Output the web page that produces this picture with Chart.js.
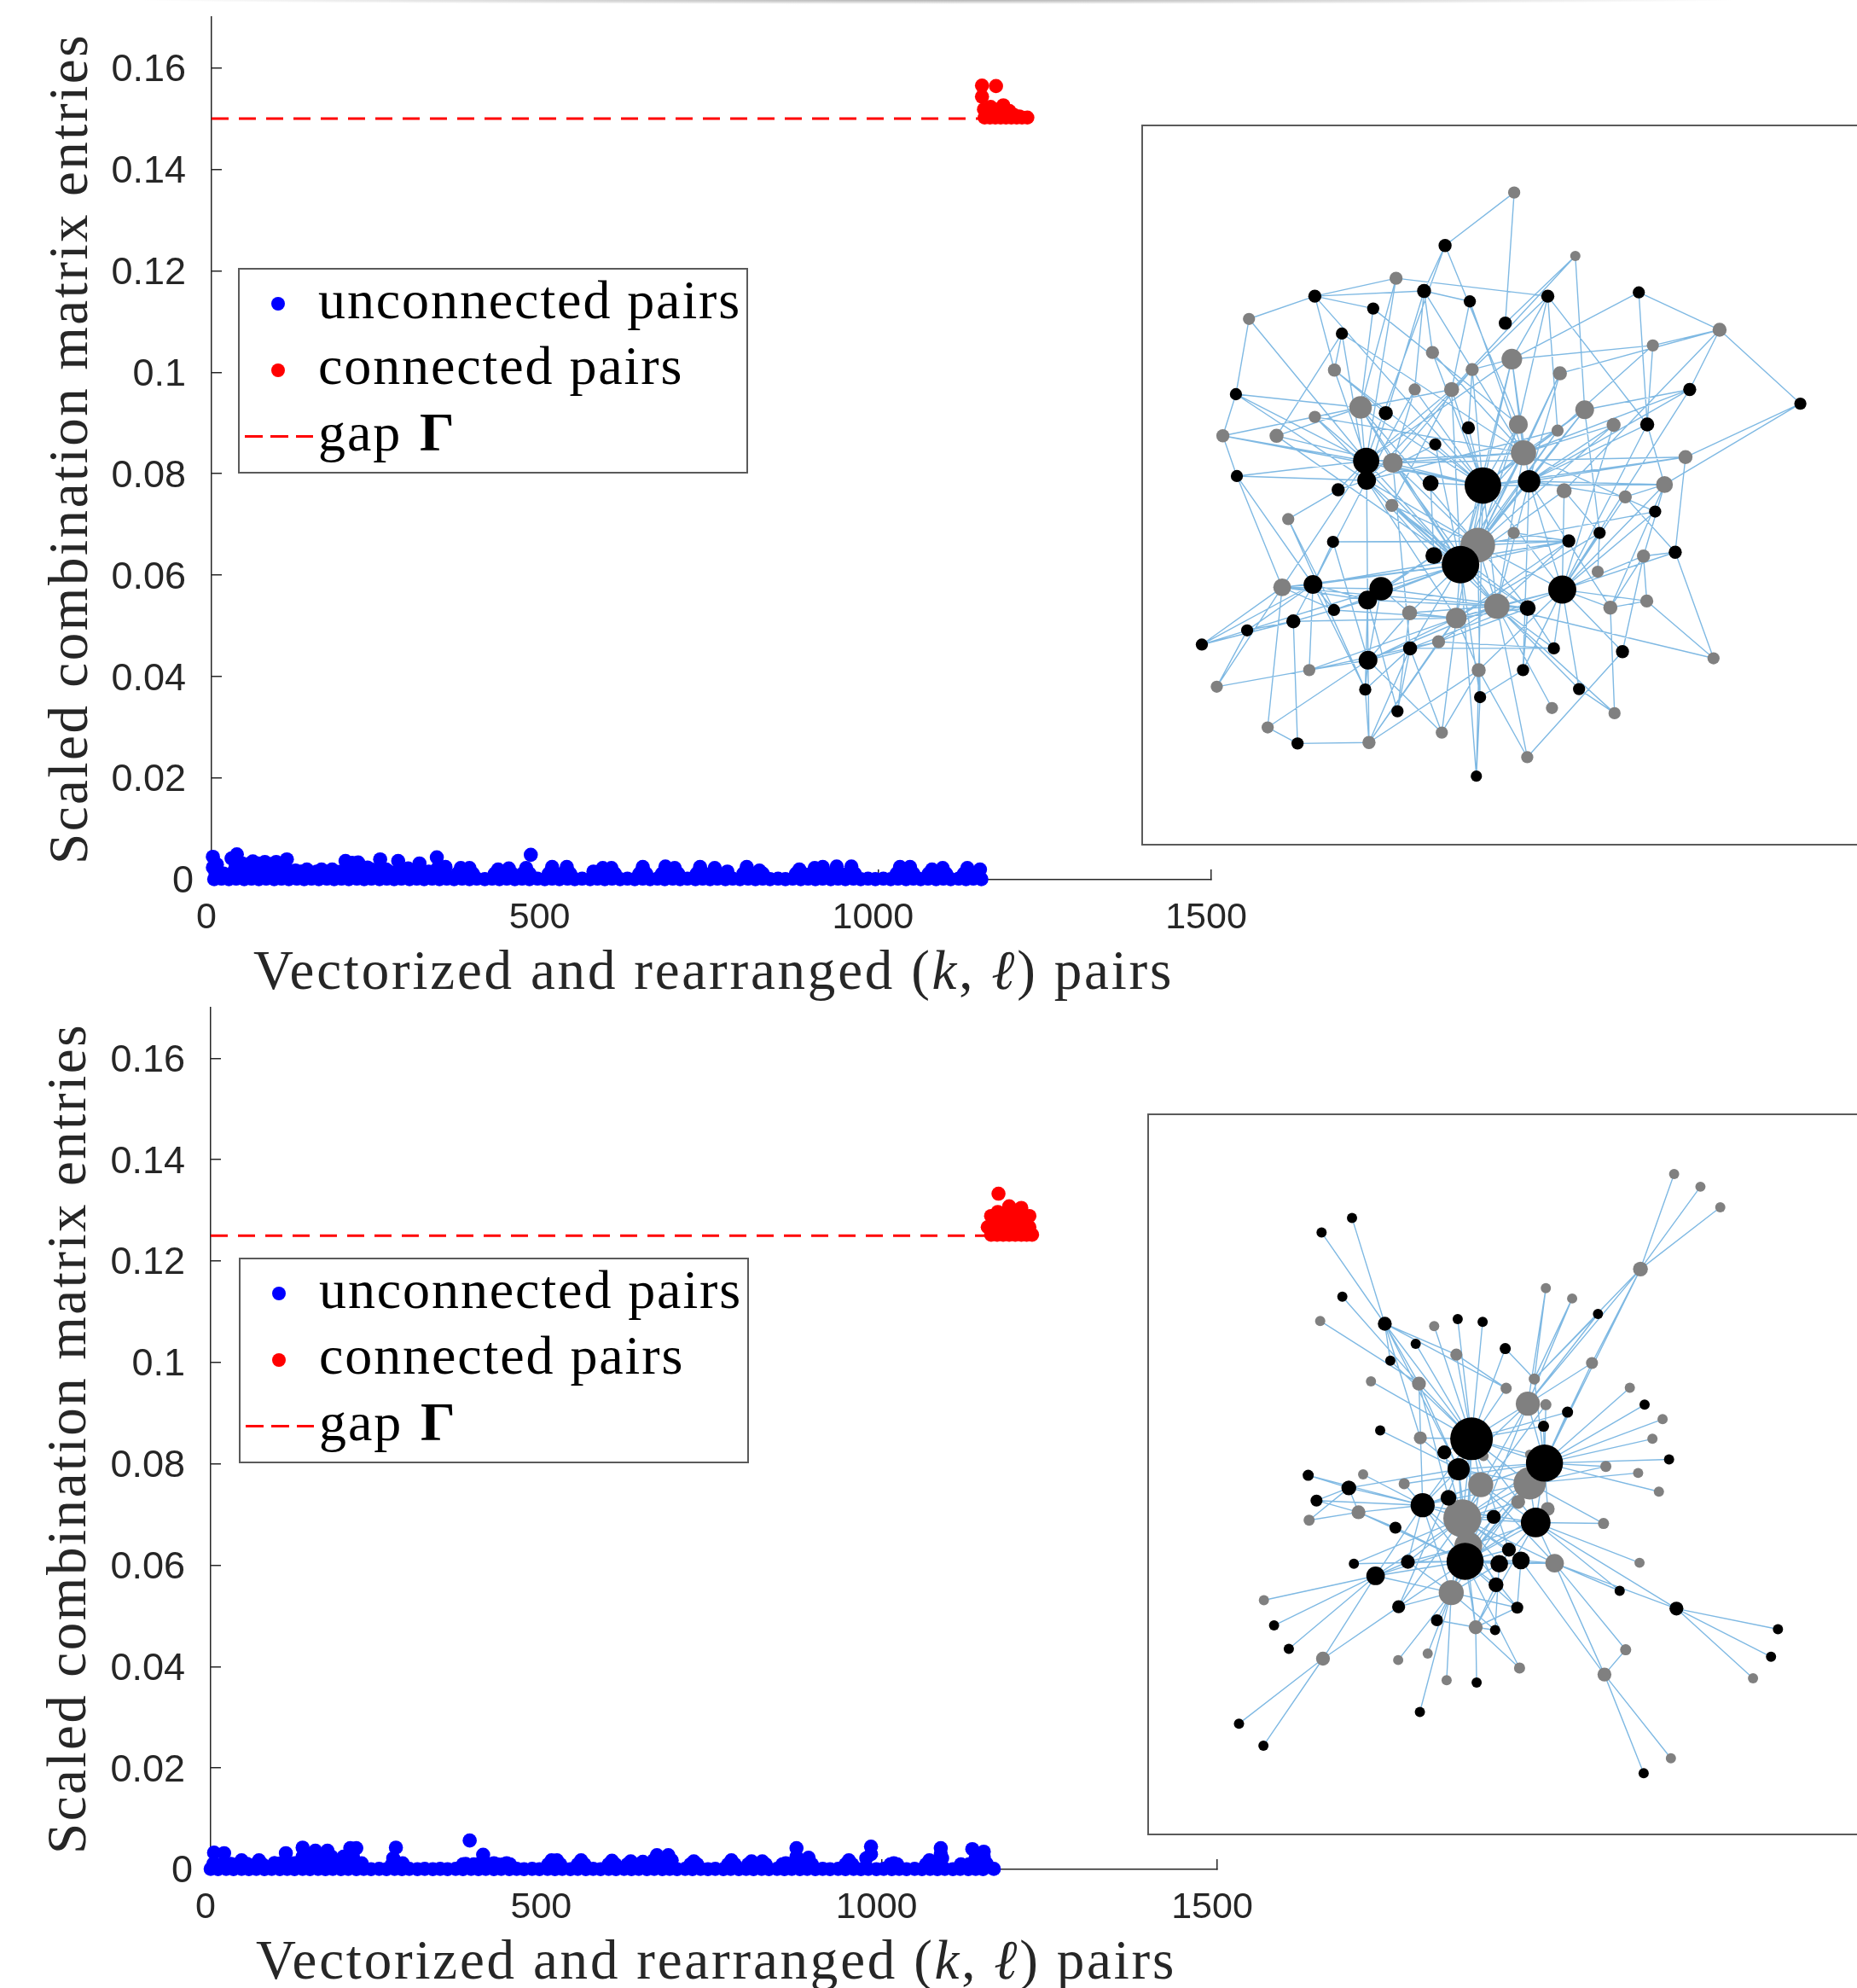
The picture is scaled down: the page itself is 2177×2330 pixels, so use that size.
<!DOCTYPE html>
<html>
<head>
<meta charset="utf-8">
<title>Scaled combination matrix entries</title>
<script src="https://cdn.jsdelivr.net/npm/chart.js@4"></script>
<style>
html, body { margin: 0; padding: 0; background: #fff; width: 2177px; height: 2330px; overflow: hidden; }
canvas { position: absolute; display: block; }
.top-shade { position: absolute; left: 150px; top: 0; width: 1900px; height: 5px; background: radial-gradient(ellipse at center top, rgba(0,0,0,.3), rgba(0,0,0,0) 70%); }
.axis-title { position: absolute; white-space: nowrap; font-family: "Liberation Serif", serif; font-size: 65px; line-height: 76px; letter-spacing: 2.8px; color: #262626; }
.y-title { letter-spacing: 2.55px; transform: translate(-50%, -50%) rotate(-90deg); }
.legend { position: absolute; width: 594px; height: 237px; background: #fff; border: 2px solid #5a5a5a; font-family: "Liberation Serif", serif; font-size: 64px; line-height: 76px; color: #000; }
.legend .row { position: absolute; left: 92px; white-space: nowrap; letter-spacing: 1.9px; }
.legend .dot { position: absolute; left: 37px; width: 16px; height: 16px; border-radius: 50%; }
.legend .dash { position: absolute; left: 6px; width: 80px; height: 3px; background: repeating-linear-gradient(90deg, #f00 0 21px, transparent 21px 30px); }
.legend b { margin-left: 3px; }
.inset { position: absolute; background: #fff; border: 2px solid #5a5a5a; border-right: none; overflow: hidden; }
</style>
</head>
<body>

<div class="top-shade"></div>

<canvas id="panel-1" width="1470" height="1150" style="left:0;top:0"></canvas>
<canvas id="panel-2" width="1480" height="1150" style="left:0;top:1160px"></canvas>

<div class="inset" style="left:1338px;top:146px;width:839px;height:841px"><canvas id="net-1" width="839" height="841"></canvas></div>
<div class="inset" style="left:1345px;top:1305px;width:832px;height:842px"><canvas id="net-2" width="832" height="842"></canvas></div>

<div class="axis-title y-title" style="left:80px;top:526px">Scaled combination matrix entries</div>
<div class="axis-title" style="left:297px;top:1099px">Vectorized and rearranged (<i>k</i>, <i>ℓ</i>) pairs</div>
<div class="axis-title y-title" style="left:78px;top:1686px">Scaled combination matrix entries</div>
<div class="axis-title" style="left:300px;top:2259px">Vectorized and rearranged (<i>k</i>, <i>ℓ</i>) pairs</div>

<div class="legend" style="left:279px;top:314px">
    <span class="dot" style="top:32px;background:#00f"></span>
    <div class="row" style="top:-2px">unconnected pairs</div>
    <span class="dot" style="top:110px;background:#f00"></span>
    <div class="row" style="top:75px">connected pairs</div>
    <span class="dash" style="top:194px"></span>
    <div class="row" style="top:153px">gap <b>Γ</b></div>
</div>
<div class="legend" style="left:280px;top:1474px">
    <span class="dot" style="top:32px;background:#00f"></span>
    <div class="row" style="top:-2px">unconnected pairs</div>
    <span class="dot" style="top:110px;background:#f00"></span>
    <div class="row" style="top:75px">connected pairs</div>
    <span class="dash" style="top:194px"></span>
    <div class="row" style="top:153px">gap <b>Γ</b></div>
</div>

<script>
const xTicks = [0, 500, 1000, 1500];
const yTicks = [0, 0.02, 0.04, 0.06, 0.08, 0.1, 0.12, 0.14, 0.16];

const gap1 = 0.15;
const gap1End = 1160;
const gap2 = 0.125;
const gap2End = 1165;

// Top panel: the low band of unconnected pairs
const low1X = [
    4, 15, 26, 37, 49, 60, 71, 82, 94, 105,
    116, 128, 139, 150, 161, 173, 184, 195, 206, 218,
    229, 240, 252, 263, 274, 285, 297, 308, 319, 331,
    342, 353, 364, 376, 387, 398, 410, 421, 432, 443,
    455, 466, 477, 489, 500, 511, 522, 534, 545, 556,
    568, 579, 590, 601, 613, 624, 635, 647, 658, 669,
    680, 692, 703, 714, 726, 737, 748, 759, 771, 782,
    793, 805, 816, 827, 838, 850, 861, 872, 884, 895,
    906, 917, 929, 940, 951, 963, 974, 985, 996, 1008,
    1019, 1030, 1042, 1053, 1064, 1075, 1087, 1098, 1109, 1121,
    1132, 1143, 1155
];
const low1Y = [
    0.0001, 0.0002, 0.0001, 0.0002, 0.0001, 0.0002, 0.0001, 0.0002, 0.0001, 0.0002,
    0.0001, 0.0002, 0.0001, 0.0002, 0.0001, 0.0002, 0.0001, 0.0002, 0.0001, 0.0002,
    0.0001, 0.0002, 0.0001, 0.0002, 0.0001, 0.0002, 0.0001, 0.0002, 0.0001, 0.0002,
    0.0001, 0.0002, 0.0001, 0.0002, 0.0001, 0.0002, 0.0001, 0.0002, 0.0001, 0.0002,
    0.0001, 0.0002, 0.0001, 0.0002, 0.0001, 0.0002, 0.0001, 0.0002, 0.0001, 0.0002,
    0.0001, 0.0002, 0.0001, 0.0002, 0.0001, 0.0002, 0.0001, 0.0002, 0.0001, 0.0002,
    0.0001, 0.0002, 0.0001, 0.0002, 0.0001, 0.0002, 0.0001, 0.0002, 0.0001, 0.0002,
    0.0001, 0.0002, 0.0001, 0.0002, 0.0001, 0.0002, 0.0001, 0.0002, 0.0001, 0.0002,
    0.0001, 0.0002, 0.0001, 0.0002, 0.0001, 0.0002, 0.0001, 0.0002, 0.0001, 0.0002,
    0.0001, 0.0002, 0.0001, 0.0002, 0.0001, 0.0002, 0.0001, 0.0002, 0.0001, 0.0002,
    0.0001, 0.0002, 0.0001
];

// Top panel: the bumps above the band
const high1X = [
    2, 2, 8, 10, 30, 38, 36, 62, 60, 80,
    78, 97, 95, 113, 113, 143, 165, 181, 201, 203,
    211, 234, 253, 252, 280, 281, 312, 312, 338, 340,
    351, 374, 387, 430, 446, 472, 479, 511, 533, 573,
    587, 600, 647, 681, 695, 733, 755, 774, 803, 822,
    882, 905, 917, 938, 960, 1033, 1048, 1081, 1097, 1134,
    1153
];
const high1Y = [
    0.0045, 0.0024, 0.003, 0.0012, 0.0042, 0.005, 0.0025, 0.0036, 0.0018, 0.0035,
    0.0018, 0.0035, 0.0018, 0.004, 0.002, 0.002, 0.002, 0.002, 0.0037, 0.002,
    0.0033, 0.0024, 0.004, 0.002, 0.0037, 0.0018, 0.0032, 0.0016, 0.0044, 0.0024,
    0.0025, 0.0023, 0.0023, 0.002, 0.0022, 0.0023, 0.0049, 0.0025, 0.0025, 0.0016,
    0.0023, 0.0023, 0.0025, 0.0026, 0.0023, 0.0025, 0.0023, 0.0016, 0.0025, 0.0018,
    0.002, 0.0023, 0.0025, 0.0026, 0.0026, 0.0025, 0.0025, 0.002, 0.0023, 0.0023,
    0.002
];

// Top panel: the points that fill the area under the bumps
const fill1X = [
    6, 18, 30, 42, 54, 66, 78, 90, 102, 114,
    46, 58, 70, 82, 94, 106, 126,
    134, 146, 158, 170, 182, 194, 206, 218, 230, 242,
    254, 266, 278, 290, 302, 314, 326, 338, 350,
    220, 240, 262, 295,
    369, 379, 382, 392, 425, 435, 441, 451, 467, 477,
    506, 516, 528, 538, 582, 592, 595, 605, 642, 652,
    676, 686, 690, 700, 728, 738, 750, 760, 798, 808,
    817, 827, 877, 887, 900, 910, 912, 922, 933, 943,
    955, 965, 1028, 1038, 1043, 1053, 1076, 1086, 1092, 1102,
    1129, 1139, 1148, 1150
];
const fill1Y = [
    0.0012, 0.0012, 0.0012, 0.0012, 0.0012, 0.0012, 0.0012, 0.0012, 0.0012, 0.0012,
    0.0032, 0.0032, 0.0032, 0.0032, 0.0032, 0.0032, 0.0018,
    0.0016, 0.0016, 0.0016, 0.0016, 0.0016, 0.0016, 0.0016, 0.0016, 0.0016, 0.0016,
    0.0016, 0.0016, 0.0016, 0.0016, 0.0016, 0.0016, 0.0016, 0.0016, 0.0016,
    0.0034, 0.002, 0.002, 0.0022,
    0.0012, 0.0012, 0.0012, 0.0012, 0.0012, 0.0012, 0.0012, 0.0012, 0.0012, 0.0012,
    0.0012, 0.0012, 0.0012, 0.0012, 0.0012, 0.0012, 0.0012, 0.0012, 0.0012, 0.0012,
    0.0012, 0.0012, 0.0012, 0.0012, 0.0012, 0.0012, 0.0012, 0.0012, 0.0012, 0.0012,
    0.0012, 0.0012, 0.0012, 0.0012, 0.0012, 0.0012, 0.0012, 0.0012, 0.0012, 0.0012,
    0.0012, 0.0012, 0.0012, 0.0012, 0.0012, 0.0012, 0.0012, 0.0012, 0.0012, 0.0012,
    0.0012, 0.0012, 0.0012, 0.0012
];

const red1X = [
    1156, 1177, 1156, 1159, 1169, 1188, 1197, 1160, 1168, 1176,
    1184, 1192, 1200, 1208, 1216, 1224, 1172, 1180, 1190, 1204,
    1165, 1212
];
const red1Y = [
    0.1565, 0.1564, 0.1543, 0.1518, 0.1523, 0.1526, 0.1515, 0.1502, 0.1502, 0.1502,
    0.1502, 0.1502, 0.1502, 0.1502, 0.1502, 0.1502, 0.1512, 0.1518, 0.1514, 0.1507,
    0.151, 0.1504
];

// Bottom panel: the low band of unconnected pairs
const low2X = [
    0, 11, 23, 34, 46, 57, 68, 80, 91, 103,
    114, 125, 137, 148, 160, 171, 182, 194, 205, 217,
    228, 239, 251, 262, 274, 285, 296, 308, 319, 331,
    342, 353, 365, 376, 388, 399, 410, 422, 433, 445,
    456, 467, 479, 490, 502, 513, 524, 536, 547, 559,
    570, 581, 593, 604, 616, 627, 638, 650, 661, 673,
    684, 695, 707, 718, 730, 741, 752, 764, 775, 787,
    798, 809, 821, 832, 844, 855, 866, 878, 889, 901,
    912, 923, 935, 946, 958, 969, 980, 992, 1003, 1015,
    1026, 1037, 1049, 1060, 1072, 1083, 1094, 1106, 1117, 1129,
    1140, 1151, 1167
];
const low2Y = [
    0.0001, 0.00005, 0.0001, 0.00005, 0.0001, 0.00005, 0.0001, 0.00005, 0.0001, 0.00005,
    0.0001, 0.00005, 0.0001, 0.00005, 0.0001, 0.00005, 0.0001, 0.00005, 0.0001, 0.00005,
    0.0001, 0.00005, 0.0001, 0.00005, 0.0001, 0.00005, 0.0001, 0.00005, 0.0001, 0.00005,
    0.0001, 0.00005, 0.0001, 0.00005, 0.0001, 0.00005, 0.0001, 0.00005, 0.0001, 0.00005,
    0.0001, 0.00005, 0.0001, 0.00005, 0.0001, 0.00005, 0.0001, 0.00005, 0.0001, 0.00005,
    0.0001, 0.00005, 0.0001, 0.00005, 0.0001, 0.00005, 0.0001, 0.00005, 0.0001, 0.00005,
    0.0001, 0.00005, 0.0001, 0.00005, 0.0001, 0.00005, 0.0001, 0.00005, 0.0001, 0.00005,
    0.0001, 0.00005, 0.0001, 0.00005, 0.0001, 0.00005, 0.0001, 0.00005, 0.0001, 0.00005,
    0.0001, 0.00005, 0.0001, 0.00005, 0.0001, 0.00005, 0.0001, 0.00005, 0.0001, 0.00005,
    0.0001, 0.00005, 0.0001, 0.00005, 0.0001, 0.00005, 0.0001, 0.00005, 0.0001, 0.00005,
    0.0001, 0.00005, 0.0001
];

// Bottom panel: the bumps above the band
const high2X = [
    5, 4, 20, 46, 72, 95, 112, 137, 135, 156,
    174, 158, 208, 217, 198, 276, 272, 286, 386, 406,
    380, 422, 441, 508, 516, 552, 598, 626, 644, 665,
    682, 720, 776, 806, 822, 857, 873, 891, 951, 984,
    977, 1018, 1071, 1088, 1090, 1118, 1135, 1152, 1140, 1156
];
const high2Y = [
    0.0033, 0.0011, 0.0032, 0.0018, 0.0018, 0.0012, 0.0032, 0.0043, 0.0018, 0.0037,
    0.0037, 0.0018, 0.0042, 0.0042, 0.0025, 0.0043, 0.0022, 0.0012, 0.0057, 0.0029,
    0.0011, 0.0012, 0.0012, 0.0018, 0.0018, 0.0018, 0.0017, 0.0016, 0.0015, 0.0028,
    0.0028, 0.0016, 0.0018, 0.0016, 0.0016, 0.0012, 0.0042, 0.0023, 0.0018, 0.0045,
    0.0022, 0.0012, 0.0018, 0.0042, 0.0022, 0.001, 0.004, 0.0035, 0.0022, 0.0012
];

// Bottom panel: the points that fill the area under the bumps
const fill2X = [
    6, 18, 30, 42, 54,
    95, 105, 115, 125, 135, 145, 155, 165, 175, 185, 195, 205, 215, 225,
    137, 150, 165, 180, 200, 212,
    67, 77, 41, 51, 270, 282, 376, 392, 400, 412,
    417, 427, 436, 446, 503, 521, 547, 557, 593, 603,
    621, 631, 639, 649, 715, 725, 771, 781, 801, 811,
    817, 827, 852, 862, 886, 896, 946, 956, 1013, 1023,
    1066, 1076, 1130, 1140, 1145, 1155,
    660, 670, 677, 687,
    873, 984, 1088, 1152
];
const fill2Y = [
    0.0011, 0.0011, 0.0011, 0.0011, 0.0011,
    0.0012, 0.0012, 0.0012, 0.0012, 0.0012, 0.0012, 0.0012, 0.0012, 0.0012, 0.0012, 0.0012, 0.0012, 0.0012, 0.0012,
    0.0025, 0.0025, 0.0025, 0.0025, 0.0025, 0.0025,
    0.001, 0.001, 0.001, 0.001, 0.001, 0.001, 0.001, 0.001, 0.001, 0.001,
    0.001, 0.001, 0.001, 0.001, 0.001, 0.001, 0.001, 0.001, 0.001, 0.001,
    0.001, 0.001, 0.001, 0.001, 0.001, 0.001, 0.001, 0.001, 0.001, 0.001,
    0.001, 0.001, 0.001, 0.001, 0.001, 0.001, 0.001, 0.001, 0.001, 0.001,
    0.001, 0.001, 0.001, 0.001, 0.001, 0.001,
    0.0018, 0.0018, 0.0018, 0.0018,
    0.0025, 0.003, 0.003, 0.0025
];

const red2X = [
    1174, 1190, 1208, 1163, 1220, 1173, 1158, 1220, 1224, 1163,
    1172, 1181, 1190, 1199, 1208, 1216, 1170, 1180, 1190, 1200,
    1210, 1168, 1178, 1188, 1198, 1208, 1182, 1196
];
const red2Y = [
    0.1333, 0.1308, 0.1305, 0.1289, 0.1289, 0.1297, 0.1267, 0.1267, 0.1252, 0.1252,
    0.1252, 0.1252, 0.1252, 0.1252, 0.1252, 0.1252, 0.1265, 0.1265, 0.1265, 0.1265,
    0.1265, 0.1279, 0.1279, 0.1279, 0.1279, 0.1279, 0.1292, 0.1292
];

// Top network, layout coordinates. Nodes 0-49 are gray, the rest black
const net1GrayCount = 50;
const net1X = [
    830, 961, 577, 262, 1270, 1127, 655, 825, 445, 740,
    928, 617, 696, 501, 981, 403, 839, 1043, 206, 321,
    923, 850, 1197, 570, 937, 1152, 1068, 568, 346, 829,
    752, 1107, 1009, 333, 1114, 793, 1036, 606, 706, 668,
    391, 754, 193, 1257, 911, 1045, 302, 519, 675, 858,
    682, 403, 637, 902, 1097, 528, 735, 811, 461, 1206,
    234, 555, 1443, 732, 1115, 661, 513, 236, 514, 651,
    453, 763, 862, 1132, 1013, 442, 947, 658, 715, 1175,
    399, 545, 516, 933, 444, 859, 357, 258, 161, 607,
    915, 517, 1062, 849, 511, 969, 580, 757, 366, 749
];
const net1Y = [
    171, 305, 352, 438, 461, 494, 509, 523, 546, 545,
    553, 587, 587, 625, 630, 645, 661, 662, 685, 685,
    674, 721, 730, 742, 801, 788, 814, 832, 861, 890,
    916, 939, 972, 1005, 1034, 1045, 1048, 1059, 1070, 1120,
    1180, 1180, 1215, 1155, 1260, 1271, 1301, 1333, 1312, 1364,
    283, 390, 379, 390, 382, 416, 401, 447, 469, 587,
    597, 637, 617, 668, 661, 703, 738, 770, 779, 785,
    799, 790, 781, 845, 890, 909, 907, 938, 957, 931,
    999, 1008, 1032, 1010, 1053, 1049, 1077, 1096, 1126, 1134,
    1134, 1159, 1141, 1180, 1221, 1220, 1267, 1237, 1335, 1404
];
const net1Size = [
    13, 11, 14, 13, 15, 13, 14, 22, 14, 14,
    15, 13, 16, 24, 20, 13, 20, 15, 14, 15,
    13, 27, 15, 21, 16, 18, 14, 14, 13, 13,
    37, 14, 13, 19, 14, 27, 15, 16, 22, 14,
    13, 15, 13, 13, 13, 13, 13, 14, 13, 13,
    14, 14, 15, 14, 13, 13, 13, 14, 13, 14,
    13, 15, 13, 14, 15, 13, 28, 13, 20, 17,
    14, 39, 24, 13, 13, 13, 14, 18, 40, 14,
    20, 25, 20, 30, 13, 17, 15, 13, 13, 15,
    13, 20, 14, 13, 13, 13, 13, 13, 13, 12
];
const net1Edges = [
    [0,50],[0,57],[50,52],[50,16],[50,66],[1,57],[1,14],[1,12],[2,53],[2,51],[2,13],[2,66],
    [3,51],[3,60],[3,66],[51,52],[51,55],[51,8],[51,71],[52,56],[52,6],[52,11],[52,21],[52,68],
    [55,16],[55,13],[56,12],[56,21],[58,8],[58,19],[58,21],[58,68],[8,66],[8,61],[8,71],
    [53,7],[53,64],[53,9],[53,16],[53,20],[54,4],[54,64],[54,7],[4,5],[4,62],[4,59],[4,10],[4,24],
    [5,7],[5,64],[5,20],[6,21],[6,71],[7,71],[7,72],[7,78],[7,9],[7,21],[7,66],
    [9,68],[9,23],[9,71],[10,30],[10,72],[10,21],[11,23],[11,68],[11,71],
    [12,66],[12,13],[12,78],[12,71],[12,27],[13,60],[13,23],[13,68],[13,71],[13,18],[13,78],[13,30],
    [14,21],[14,72],[14,59],[14,71],[14,74],[14,78],[15,18],[15,66],[15,13],[15,21],[15,78],
    [16,78],[16,30],[16,71],[17,21],[17,72],[17,83],[17,30],[18,60],[18,67],[18,66],[18,71],
    [19,13],[19,78],[19,71],[20,71],[20,78],[20,30],[20,68],
    [21,71],[21,78],[21,30],[21,35],[21,66],[21,23],[21,77],[22,62],[22,71],[22,79],[22,72],[22,23],
    [59,21],[59,83],[59,72],[60,66],[60,68],[60,13],[62,25],[64,83],[64,25],[64,72],
    [65,71],[65,78],[65,68],[63,71],[63,9],[66,71],[66,78],[66,67],[66,33],[67,33],[67,80],[67,68],
    [68,80],[68,77],[68,91],[68,78],[68,38],[68,30],[69,71],[69,77],[70,28],[70,68],[70,66],
    [71,78],[71,30],[71,35],[71,83],[71,38],[71,25],[71,72],
    [72,30],[72,83],[72,25],[72,78],[72,35],[72,36],[72,93],[23,78],[23,30],[23,35],[23,89],
    [24,83],[24,78],[25,83],[25,26],[25,31],[25,36],[26,83],[26,72],[26,79],[27,78],[27,35],[27,30],[27,85],
    [28,84],[28,94],[29,76],[30,78],[30,35],[30,83],[30,76],[30,85],[30,97],[73,30],[73,83],[73,21],
    [74,83],[74,32],[74,24],[74,38],[75,76],[75,80],[75,91],[76,78],[76,35],[76,80],[76,38],[77,81],[77,82],
    [78,80],[78,81],[78,82],[78,84],[78,35],[78,38],[78,37],[78,33],[78,97],[78,85],[78,89],
    [79,31],[79,43],[79,83],[80,33],[80,84],[80,86],[80,88],[80,40],[80,87],[80,82],[80,94],
    [81,33],[81,85],[81,91],[81,87],[81,37],[82,33],[82,86],[82,35],[82,94],[82,96],
    [83,35],[83,38],[83,41],[83,31],[83,34],[83,36],[83,90],[83,92],[83,95],[83,89],[83,93],
    [33,88],[33,42],[33,46],[33,84],[33,85],[84,82],[84,38],[85,35],[85,38],[85,39],
    [86,87],[86,88],[86,98],[86,38],[87,88],[87,42],
    [35,38],[35,37],[35,39],[35,90],[35,95],[35,44],[35,45],[35,91],[35,49],[35,43],
    [36,34],[36,45],[37,38],[37,91],[37,96],[38,91],[38,40],[38,39],[38,47],[38,41],[38,48],
    [39,40],[39,91],[39,47],[39,90],[31,92],[31,34],[31,36],[34,43],[41,49],[41,47],[41,48],[41,97],
    [42,40],[40,91],[46,98],[46,91],[98,47],[47,94],[47,91],[47,89],[89,96],[89,94],[89,48],[89,90],
    [91,94],[91,48],[93,85],[93,97],[92,49],[95,45],[97,99],[99,78],[99,71],[90,85]
];

// Bottom network, layout coordinates. Nodes 0-49 are gray, the rest black
const net2GrayCount = 50;
const net2X = [
    1168, 1225, 1268, 1095, 890, 947, 401, 648, 696, 990,
    511, 615, 804, 865, 1072, 851, 890, 1143, 1121, 618,
    755, 855, 494, 1090, 1020, 583, 749, 855, 1135, 830,
    484, 377, 894, 709, 1015, 722, 909, 1093, 685, 279,
    738, 1063, 407, 570, 634, 833, 1017, 675, 1339, 1161,
    470, 404, 449, 541, 699, 753, 1003, 608, 802, 553,
    937, 1104, 885, 531, 729, 670, 887, 1157, 701, 375,
    463, 393, 679, 623, 777, 868, 564, 810, 715, 836,
    789, 591, 474, 521, 782, 1050, 571, 828, 1173, 654,
    780, 301, 333, 1393, 1378, 740, 617, 225, 278, 1102
];
const net2Y = [
    137, 164, 208, 340, 381, 403, 451, 462, 523, 541,
    580, 585, 595, 575, 594, 628, 630, 661, 703, 701,
    740, 736, 779, 776, 762, 799, 801, 798, 816, 838,
    860, 877, 853, 873, 884, 932, 969, 968, 1032, 1048,
    1106, 1154, 1173, 1176, 1162, 1193, 1207, 1219, 1215, 1386,
    231, 262, 399, 457, 447, 453, 436, 500, 510, 536,
    646, 630, 676, 685, 703, 732, 755, 747, 768, 781,
    808, 835, 829, 845, 870, 882, 893, 940, 965, 963,
    970, 966, 970, 996, 1015, 1028, 1062, 1064, 1066, 1091,
    1112, 1102, 1152, 1110, 1169, 1224, 1287, 1312, 1359, 1418
];
const net2Size = [
    11, 11, 11, 16, 11, 11, 11, 11, 13, 13,
    11, 15, 12, 12, 11, 26, 12, 11, 11, 14,
    11, 10, 11, 11, 12, 12, 27, 35, 11, 15,
    15, 12, 15, 41, 12, 30, 20, 11, 27, 11,
    15, 12, 15, 11, 11, 12, 15, 11, 11, 11,
    11, 11, 11, 15, 11, 11, 11, 11, 12, 11,
    12, 11, 12, 11, 46, 15, 40, 11, 24, 12,
    16, 13, 17, 26, 15, 32, 13, 15, 40, 19,
    19, 15, 11, 20, 16, 11, 14, 13, 15, 13,
    11, 11, 11, 11, 11, 11, 11, 11, 11, 11
];
const net2Edges = [
    [0,3],[1,3],[2,3],[3,13],[3,15],[3,66],[3,9],[56,13],[56,15],[9,15],[9,66],
    [4,13],[5,15],[5,13],[4,15],[50,53],[51,53],[52,11],[6,11],[53,11],[53,8],[53,19],[53,64],[53,68],
    [10,64],[11,64],[11,68],[11,73],[11,78],[59,53],[59,64],[7,64],[54,64],[55,64],[57,64],[8,64],[58,64],[58,13],
    [12,64],[53,12],[8,12],[13,66],[15,64],[15,66],[15,68],[15,78],[15,33],[16,66],[16,33],[60,66],[60,64],[62,64],[62,66],
    [14,66],[61,66],[17,66],[18,66],[67,66],[24,66],[24,27],[23,27],[28,66],[34,75],[34,27],
    [19,64],[19,68],[63,68],[20,64],[21,64],[65,64],[65,33],
    [22,73],[25,66],[25,73],[69,73],[69,70],[70,73],[70,71],[70,31],[70,68],[71,73],[71,30],[30,73],[30,78],[31,30],[30,70],
    [76,78],[76,30],[72,73],[73,64],[73,66],[73,68],[73,27],[73,26],[73,33],[73,74],[73,75],[73,35],[73,78],[73,81],[73,83],[73,38],
    [68,66],[68,26],[68,33],[68,27],[68,35],[68,78],[68,75],[64,66],[64,26],[64,27],[64,33],[64,35],[64,78],[64,75],
    [66,26],[66,33],[66,35],[66,78],[66,75],[66,29],[66,32],[26,33],[26,78],[26,75],[26,36],[27,33],[27,78],[27,75],[27,38],
    [29,33],[29,78],[32,75],[32,78],[75,33],[75,78],[75,35],[75,36],[75,88],[75,85],[75,37],[75,40],[75,80],
    [74,33],[74,78],[77,33],[77,78],[77,64],[36,78],[36,33],[36,46],[36,41],[36,85],[36,80],[36,79],
    [79,78],[79,87],[79,33],[79,46],[80,78],[80,38],[80,33],[84,78],[84,33],[84,40],
    [78,33],[78,81],[78,83],[78,86],[78,38],[78,40],[78,82],[78,87],[33,81],[33,83],[33,86],[33,38],[33,40],
    [35,38],[35,81],[35,83],[38,83],[38,86],[38,87],[38,89],[38,90],[38,43],[38,44],[38,47],[38,96],
    [83,39],[83,91],[83,92],[83,42],[83,81],[86,42],[86,64],[86,33],[81,38],[42,97],[42,98],
    [40,45],[40,89],[40,90],[40,95],[40,87],[46,41],[46,99],[46,49],
    [88,93],[88,94],[88,48],[36,88],[82,33],[45,78],[90,80],[87,35]
];

const inkColor = '#262626';
const xTickFont = { family: "'Liberation Sans', sans-serif", size: 43 };
const yTickFont = { family: "'Liberation Sans', sans-serif", size: 45 };

function zipPoints(xs, ys) {
    return xs.map((x, i) => ({ x: x, y: ys[i] }));
}

// The layout adds room for the outer tick labels unless this is cleared
function clearScalePadding(scale) {
    scale.paddingLeft = 0;
    scale.paddingRight = 0;
    scale.paddingTop = 0;
    scale.paddingBottom = 0;
}

// The y labels sit a little low, and the "0" sits closer to the axis than the rest
const nudgeYLabels = {
    id: 'nudgeYLabels',
    beforeDraw(chart) {
        chart.scales.y.getLabelItems().forEach((item, index) => {
            item.options.translation[1] += 3;
            if (index === 0) {
                item.options.translation[0] += 9;
            }
        });
    }
};

function renderPanel(id, area, blueX, blueY, redX, redY, gapValue, gapEnd) {
    const canvas = document.getElementById(id);
    new Chart(canvas.getContext('2d'), {
        type: 'scatter',
        plugins: [nudgeYLabels],
        data: {
            datasets: [
                {
                    label: 'gap Γ',
                    data: [{ x: 0, y: gapValue }, { x: gapEnd, y: gapValue }],
                    showLine: true,
                    borderColor: '#ff0000',
                    borderWidth: 3,
                    borderDash: [20, 12],
                    pointRadius: 0,
                    clip: false,
                    order: 3
                },
                {
                    label: 'unconnected pairs',
                    data: zipPoints(blueX, blueY),
                    backgroundColor: '#0000ff',
                    pointRadius: 8.3,
                    pointBorderWidth: 0,
                    clip: false,
                    order: 2
                },
                {
                    label: 'connected pairs',
                    data: zipPoints(redX, redY),
                    backgroundColor: '#ff0000',
                    pointRadius: 8.3,
                    pointBorderWidth: 0,
                    clip: false,
                    order: 1
                }
            ]
        },
        options: {
            responsive: false,
            animation: false,
            layout: {
                autoPadding: false,
                padding: { left: 0, top: area.top, right: canvas.width - area.right, bottom: 0 }
            },
            plugins: { legend: { display: false }, tooltip: { enabled: false } },
            scales: {
                x: {
                    type: 'linear',
                    min: 0,
                    max: 1500,
                    afterFit: scale => {
                        scale.height = canvas.height - area.bottom;
                        clearScalePadding(scale);
                    },
                    afterBuildTicks: scale => { scale.ticks = xTicks.map(v => ({ value: v })); },
                    border: { display: true, color: inkColor, width: 1.5 },
                    grid: { drawOnChartArea: false, drawTicks: true, tickLength: -12, color: inkColor, lineWidth: 1.5 },
                    ticks: { color: inkColor, font: xTickFont, padding: 31, maxRotation: 0, labelOffset: -6, autoSkip: false, callback: v => String(v) }
                },
                y: {
                    type: 'linear',
                    min: 0,
                    max: 0.17,
                    afterFit: scale => {
                        scale.width = area.left;
                        clearScalePadding(scale);
                    },
                    afterBuildTicks: scale => { scale.ticks = yTicks.map(v => ({ value: v })); },
                    border: { display: true, color: inkColor, width: 1.5 },
                    grid: { drawOnChartArea: false, drawTicks: true, tickLength: -12, color: inkColor, lineWidth: 1.5 },
                    ticks: { color: inkColor, font: yTickFont, padding: 42, autoSkip: false, callback: v => String(v) }
                }
            }
        }
    });
}

function renderNetwork(id, xs, ys, sizes, grayCount, edges, bounds, sizeScale) {
    const segments = [];
    edges.forEach(edge => {
        segments.push({ x: xs[edge[0]], y: ys[edge[0]] });
        segments.push({ x: xs[edge[1]], y: ys[edge[1]] });
        // A null point breaks the line between two edges
        segments.push({ x: null, y: null });
    });

    new Chart(document.getElementById(id).getContext('2d'), {
        type: 'scatter',
        data: {
            datasets: [
                {
                    label: 'nodes',
                    data: zipPoints(xs, ys),
                    pointRadius: sizes.map(s => s * sizeScale),
                    pointBorderWidth: 0,
                    backgroundColor: xs.map((x, i) => (i < grayCount ? '#808080' : '#000000')),
                    order: 1
                },
                {
                    label: 'edges',
                    data: segments,
                    showLine: true,
                    spanGaps: false,
                    borderColor: '#7fb9e3',
                    borderWidth: 1.4,
                    pointRadius: 0,
                    order: 2
                }
            ]
        },
        options: {
            responsive: false,
            animation: false,
            layout: { autoPadding: false },
            plugins: { legend: { display: false }, tooltip: { enabled: false } },
            scales: {
                x: { type: 'linear', display: false, min: bounds.left, max: bounds.right },
                y: { type: 'linear', display: false, reverse: true, min: bounds.top, max: bounds.bottom }
            }
        }
    });
}

renderPanel('panel-1', { left: 248, top: 20, right: 1420, bottom: 1031 },
    low1X.concat(high1X, fill1X), low1Y.concat(high1Y, fill1Y), red1X, red1Y, gap1, gap1End);
renderPanel('panel-2', { left: 247, top: 21, right: 1427, bottom: 1031 },
    low2X.concat(high2X, fill2X), low2Y.concat(high2Y, fill2Y), red2X, red2Y, gap2, gap2End);

renderNetwork('net-1', net1X, net1Y, net1Size, net1GrayCount, net1Edges,
    { left: 35, right: 1568, top: 31, bottom: 1547 }, 1 / 1.82);
renderNetwork('net-2', net2X, net2Y, net2Size, net2GrayCount, net2Edges,
    { left: 30, right: 1568, top: 11, bottom: 1547 }, 1 / 1.84);
</script>
</body>
</html>
